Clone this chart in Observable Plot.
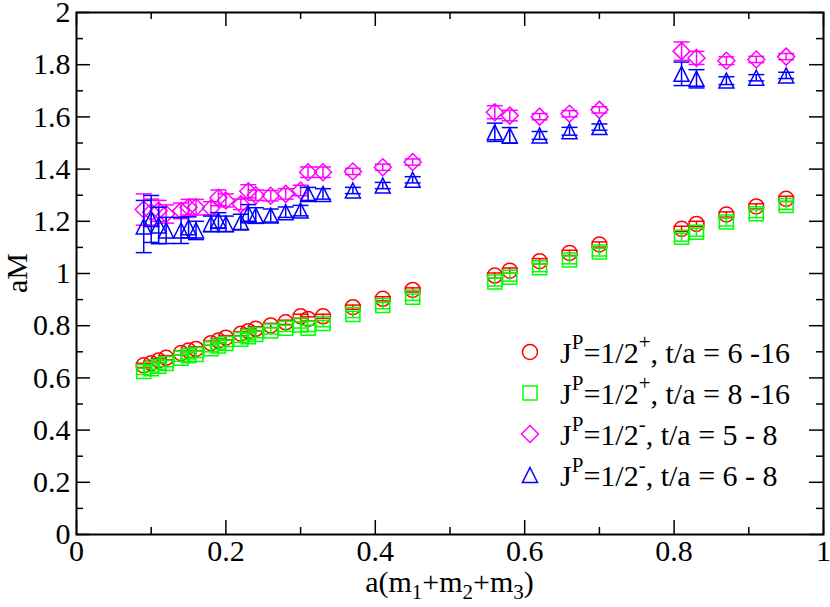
<!DOCTYPE html>
<html><head><meta charset="utf-8">
<script src="https://cdn.jsdelivr.net/npm/d3@7"></script>
<script src="https://cdn.jsdelivr.net/npm/@observablehq/plot@0.6"></script>
<style>body{margin:0;background:#fff} #chart{width:830px;height:607px} svg text{font-family:"Liberation Serif","Times New Roman","DejaVu Serif",serif !important}</style>
</head><body><div id="chart"></div>
<script>
const xValues = [0.09,0.10,0.11,0.12,0.14,0.15,0.16,0.18,0.19,0.20,0.22,0.23,0.24,0.26,0.28,0.30,0.31,0.33,0.37,0.41,0.45,0.56,0.58,0.62,0.66,0.70,0.81,0.83,0.87,0.91,0.95];

const plusA = [0.648,0.656,0.667,0.677,0.695,0.705,0.711,0.733,0.743,0.754,0.769,0.779,0.788,0.801,0.813,0.836,0.826,0.836,0.871,0.903,0.937,0.992,1.011,1.047,1.079,1.111,1.171,1.190,1.226,1.257,1.286];
const plusAErr = [0.008,0.008,0.008,0.008,0.008,0.008,0.008,0.008,0.008,0.008,0.008,0.008,0.008,0.008,0.008,0.008,0.008,0.008,0.008,0.008,0.008,0.01,0.01,0.01,0.01,0.01,0.01,0.01,0.01,0.01,0.01];

const plusB = [0.625,0.635,0.645,0.655,0.675,0.685,0.690,0.712,0.722,0.732,0.748,0.758,0.766,0.780,0.790,0.803,0.790,0.808,0.843,0.877,0.909,0.967,0.986,1.022,1.052,1.082,1.139,1.158,1.197,1.229,1.261];
const plusBErr = [0.012,0.012,0.012,0.012,0.012,0.012,0.012,0.012,0.012,0.012,0.012,0.012,0.012,0.012,0.012,0.012,0.012,0.012,0.012,0.012,0.012,0.015,0.015,0.015,0.015,0.015,0.015,0.015,0.015,0.015,0.015];

const minusA = [1.245,1.235,1.240,1.228,1.240,1.254,1.254,1.250,1.290,1.280,1.265,1.315,1.300,1.298,1.305,1.318,1.388,1.388,1.391,1.407,1.427,1.618,1.605,1.601,1.612,1.627,1.852,1.826,1.815,1.820,1.831];
const minusAErr = [0.06,0.05,0.04,0.035,0.03,0.03,0.03,0.025,0.03,0.025,0.02,0.025,0.02,0.02,0.02,0.02,0.02,0.02,0.012,0.012,0.012,0.025,0.02,0.012,0.012,0.012,0.035,0.025,0.015,0.012,0.012];

const minusB = [1.180,1.209,1.184,1.165,1.165,1.177,1.165,1.190,1.203,1.190,1.197,1.229,1.222,1.222,1.235,1.241,1.305,1.305,1.318,1.337,1.359,1.541,1.529,1.529,1.545,1.561,1.765,1.746,1.739,1.750,1.759];
const minusBErr = [0.10,0.09,0.07,0.05,0.05,0.04,0.035,0.03,0.03,0.03,0.03,0.035,0.03,0.025,0.02,0.02,0.025,0.02,0.012,0.012,0.012,0.035,0.03,0.015,0.015,0.012,0.045,0.035,0.015,0.012,0.012];

const seriesParity = ["+","+","-","-"];
const seriesRange = ["6 -16","8 -16","5 - 8","6 - 8"];
const seriesColors = ["#ff0000","#00ff00","#ff00ff","#0000ff"];

const xTicks = [0,0.2,0.4,0.6,0.8,1];
const xTickLabels = ["0","0.2","0.4","0.6","0.8","1"];
const xMinor = [0.1,0.3,0.5,0.7,0.9];
const yTicks = [0,0.2,0.4,0.6,0.8,1,1.2,1.4,1.6,1.8,2];
const yTickLabels = ["0","0.2","0.4","0.6","0.8","1","1.2","1.4","1.6","1.8","2"];
const yMinor = [0.1,0.3,0.5,0.7,0.9,1.1,1.3,1.5,1.7,1.9];

// symbols
const rad = s => Math.sqrt(s / Math.PI);
const circleSym = {draw(c, s) { const r = rad(s); c.moveTo(r, 0); c.arc(0, 0, r, 0, 2 * Math.PI); }};
const squareSym = {draw(c, s) { const r = rad(s); c.rect(-r, -r, 2 * r, 2 * r); }};
const diamondSym = {draw(c, s) { const r = rad(s); c.moveTo(0, -r); c.lineTo(r, 0); c.lineTo(0, r); c.lineTo(-r, 0); c.closePath(); }};
const triangleSym = {draw(c, s) { const r = rad(s); c.moveTo(0, -r); c.lineTo(r, r); c.lineTo(-r, r); c.closePath(); }};
const capSym = {draw(c, s) { const r = rad(s); c.moveTo(-r, 0); c.lineTo(r, 0); }};
const seriesSymbols = [circleSym, squareSym, diamondSym, triangleSym];
const seriesR = [7.5, 7, 8.5, 7.5];

const seriesY = [plusA, plusB, minusA, minusB];
const seriesE = [plusAErr, plusBErr, minusAErr, minusBErr];

const W = 830, H = 607, ML = 76, MR = 7, MT = 12, MB = 73;
const FW = W - ML - MR, FH = H - MT - MB;
const FF = '"Liberation Serif","Times New Roman","DejaVu Serif",serif';
const FS = 30, FSS = 21;

const marks = [];
seriesY.forEach((ys, k) => {
  const rows = xValues.map((x, i) => ({x, y: ys[i], e: seriesE[k][i]}));
  const col = seriesColors[k];
  marks.push(Plot.ruleX(rows, {x: "x", y1: d => d.y - d.e, y2: d => d.y + d.e, stroke: col, strokeWidth: 1.5}));
  marks.push(Plot.dot(rows, {x: "x", y: d => d.y - d.e, symbol: capSym, r: 8, stroke: col, strokeWidth: 1.5}));
  marks.push(Plot.dot(rows, {x: "x", y: d => d.y + d.e, symbol: capSym, r: 8, stroke: col, strokeWidth: 1.5}));
  marks.push(Plot.dot(rows, {x: "x", y: "y", symbol: seriesSymbols[k], r: seriesR[k], stroke: col, strokeWidth: 1.5, fill: "none"}));
});

const xLab = new Map(xTicks.map((t, i) => [t, xTickLabels[i]]));
const yLab = new Map(yTicks.map((t, i) => [t, yTickLabels[i]]));

const plot = Plot.plot({
  width: W, height: H,
  marginLeft: ML, marginRight: MR, marginTop: MT, marginBottom: MB,
  style: {fontFamily: FF, fontSize: FS + "px", background: "#fff", color: "#000", overflow: "visible"},
  x: {domain: [0, 1]},
  y: {domain: [0, 2]},
  marks: [
    ...marks,
    Plot.tickX(xTicks, {x: d => d, insetTop: FH - 14, stroke: "#000", strokeWidth: 1.5}),
    Plot.tickX(xMinor, {x: d => d, insetTop: FH - 7, stroke: "#000", strokeWidth: 1.5}),
    Plot.tickX(xTicks, {x: d => d, insetBottom: FH - 14, stroke: "#000", strokeWidth: 1.5}),
    Plot.tickX(xMinor, {x: d => d, insetBottom: FH - 7, stroke: "#000", strokeWidth: 1.5}),
    Plot.tickY(yTicks, {y: d => d, insetRight: FW - 14, stroke: "#000", strokeWidth: 1.5}),
    Plot.tickY(yMinor, {y: d => d, insetRight: FW - 7, stroke: "#000", strokeWidth: 1.5}),
    Plot.tickY(yTicks, {y: d => d, insetLeft: FW - 14, stroke: "#000", strokeWidth: 1.5}),
    Plot.tickY(yMinor, {y: d => d, insetLeft: FW - 7, stroke: "#000", strokeWidth: 1.5}),
    Plot.axisX({ticks: xTicks, tickSize: 0, tickPadding: 5, tickFormat: d => xLab.get(d), label: null, fontFamily: FF, fontSize: FS}),
    Plot.axisY({ticks: yTicks, tickSize: 0, tickPadding: 6, tickFormat: d => yLab.get(d), label: null, fontFamily: FF, fontSize: FS}),
    Plot.frame({stroke: "#000", strokeWidth: 2})
  ]
});
document.getElementById("chart").appendChild(plot);

const svg = d3.select(plot);
// x axis title
const xt = svg.append("text").attr("x", ML + FW / 2).attr("y", 592).attr("text-anchor", "middle")
  .attr("font-family", FF).attr("font-size", FS).attr("fill", "#000");
xt.append("tspan").text("a(m");
xt.append("tspan").attr("font-size", FSS).attr("dy", 7).text("1");
xt.append("tspan").attr("dy", -7).text("+m");
xt.append("tspan").attr("font-size", FSS).attr("dy", 7).text("2");
xt.append("tspan").attr("dy", -7).text("+m");
xt.append("tspan").attr("font-size", FSS).attr("dy", 7).text("3");
xt.append("tspan").attr("dy", -7).text(")");
// y axis title
svg.append("text").attr("transform", `translate(27,${MT + FH / 2}) rotate(-90)`).attr("text-anchor", "middle")
  .attr("font-family", FF).attr("font-size", FS).attr("fill", "#000").text("aM");

// legend
const lg = svg.append("g").attr("text-anchor", "start");
seriesColors.forEach((col, k) => {
  const cy = 352 + 41 * k;
  const sz = seriesR[k] * seriesR[k] * Math.PI;
  lg.append("path").attr("transform", `translate(530,${cy})`).attr("d", d3.symbol(seriesSymbols[k], sz)())
    .attr("fill", "none").attr("stroke", col).attr("stroke-width", 1.5);
  const t = lg.append("text").attr("x", 560).attr("y", cy + 11).attr("text-anchor", "start")
    .attr("font-family", FF).attr("font-size", FS).attr("fill", "#000");
  t.append("tspan").text("J");
  t.append("tspan").attr("font-size", FSS).attr("dy", -14).text("P");
  t.append("tspan").attr("dy", 14).text("=1/2");
  t.append("tspan").attr("font-size", FSS).attr("dy", -14).text(seriesParity[k]);
  t.append("tspan").attr("dy", 14).text(", t/a = " + seriesRange[k]);
});
</script></body></html>
